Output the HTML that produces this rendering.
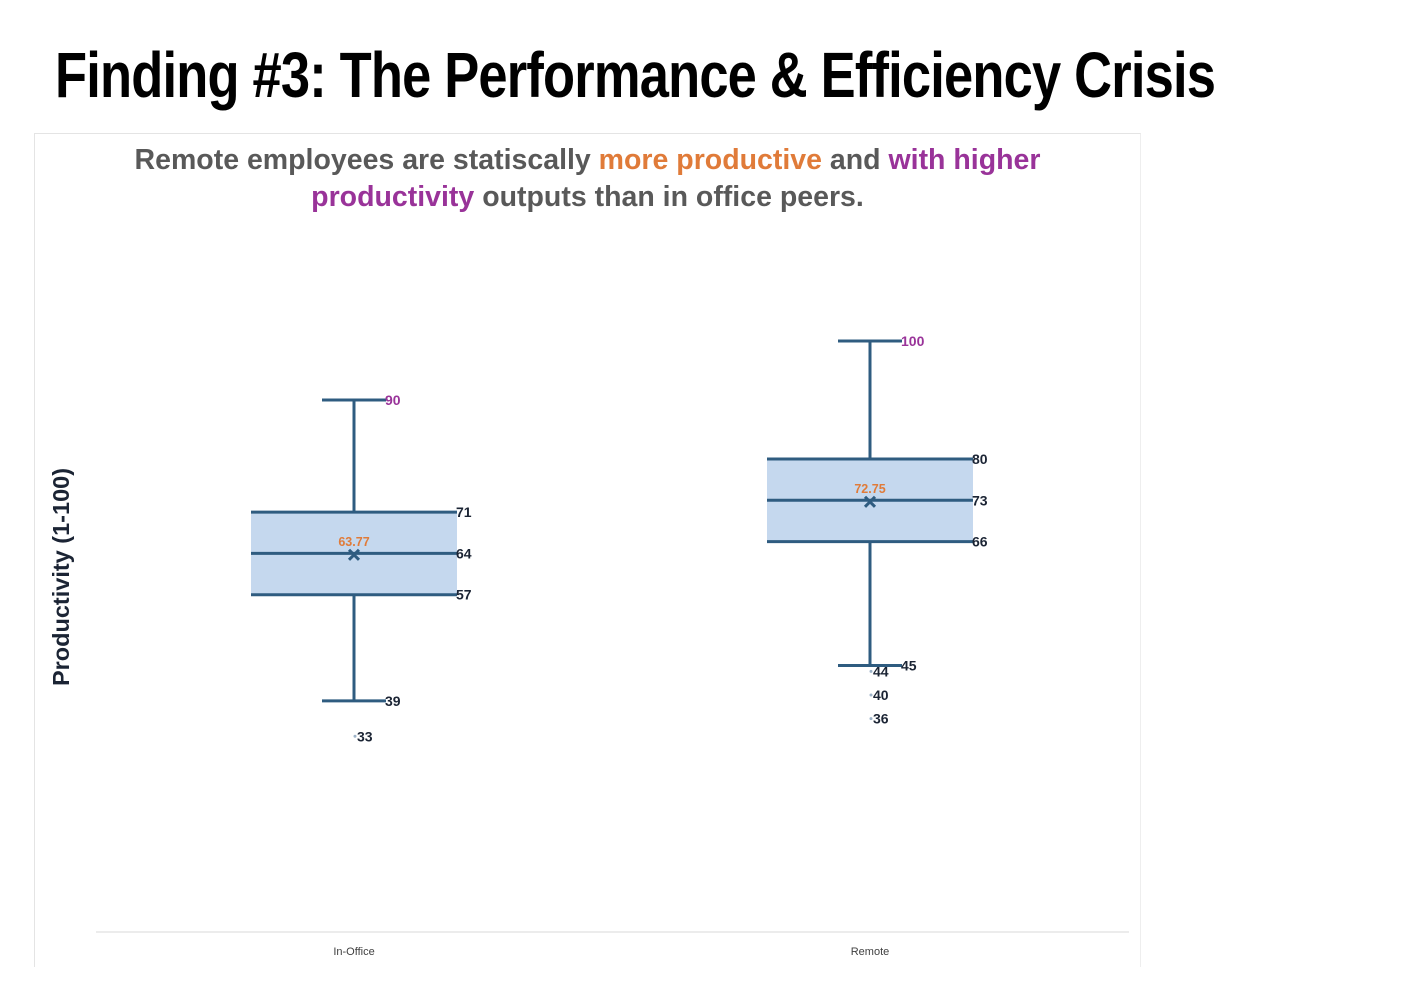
<!DOCTYPE html>
<html><head><meta charset="utf-8"><style>
body{margin:0;width:1422px;height:994px;background:#fff;overflow:hidden;font-family:"Liberation Sans",sans-serif;position:relative}
#title{position:absolute;left:55px;top:38px;font-size:64px;font-weight:bold;color:#000;white-space:nowrap;transform-origin:0 0;transform:scaleX(0.82);letter-spacing:-1px}
#frame{position:absolute;left:34px;top:133px;width:1105px;height:833px;border:1px solid #e4e4e4;border-bottom:none;border-right:1px solid #eee}
#sub{position:absolute;left:80px;top:142px;width:1015px;text-align:center;font-size:28.5px;font-weight:bold;color:#595959;line-height:37px}
.o{color:#E07B39}.p{color:#993399}
svg{position:absolute;left:0;top:0}
</style></head><body>
<div id="title">Finding #3: The Performance &amp; Efficiency Crisis</div>
<div id="frame"></div>
<div id="sub">Remote employees are statiscally <span class="o">more productive</span> and <span class="p">with higher productivity</span> outputs than in office peers.</div>
<svg id="chart" width="1422" height="994"></svg>
<script>
const categories=["In-Office","Remote"];
const mins=[39,45];
const q1s=[57,66];
const medians=[64,73];
const q3s=[71,80];
const maxs=[90,100];
const means=[63.77,72.75];
const outliers=[[33],[44,40,36]];
const svg=document.getElementById('chart');
const NS='http://www.w3.org/2000/svg';
function y(v){return 341+(100-v)*5.9;}
function xc(i){return 354+i*516;}
function el(t,a,txt){const e=document.createElementNS(NS,t);for(const k in a)e.setAttribute(k,a[k]);if(txt!==undefined)e.textContent=txt;svg.appendChild(e);return e;}
const LC='#2F5C80',TC='#1B2434';
let ax=el('line',{x1:96,x2:1129,y1:932,y2:932,stroke:'#d9d9d9','stroke-width':1});


let yt=el('text',{x:0,y:0,transform:'translate(69,577) rotate(-90)','text-anchor':'middle','font-size':23.5,'font-weight':'bold',fill:'#1B2434'},'Productivity (1-100)');


categories.forEach((c,i)=>{
 const x=xc(i);
 let g;
 g=el('line',{x1:x,x2:x,y1:y(maxs[i]),y2:y(q3s[i]),stroke:LC,'stroke-width':3});
 
 
 g=el('line',{x1:x,x2:x,y1:y(q1s[i]),y2:y(mins[i]),stroke:LC,'stroke-width':3});
 
 
 el('line',{x1:x-32,x2:x+32,y1:y(maxs[i]),y2:y(maxs[i]),stroke:LC,'stroke-width':3});
 el('line',{x1:x-32,x2:x+32,y1:y(mins[i]),y2:y(mins[i]),stroke:LC,'stroke-width':3});
 g=el('rect',{x:x-103,y:y(q3s[i]),width:206,height:y(q1s[i])-y(q3s[i]),fill:'#C5D8EE'});
 
 
 [q3s[i],medians[i],q1s[i]].forEach(v=>el('line',{x1:x-103,x2:x+103,y1:y(v),y2:y(v),stroke:LC,'stroke-width':3}));
 const my=y(means[i]);
 g=el('path',{d:`M${x-5},${my-5}L${x+5},${my+5}M${x+5},${my-5}L${x-5},${my+5}`,stroke:LC,'stroke-width':3});
 
 
 el('text',{x:x,y:my-9,'text-anchor':'middle','font-size':12.5,'font-weight':'bold',fill:'#E07B39'},means[i].toFixed(2));
 el('text',{x:x+31,y:y(maxs[i])+5,'font-size':14,'font-weight':'bold',fill:'#993399'},maxs[i]);
 el('text',{x:x+31,y:y(mins[i])+5,'font-size':14,'font-weight':'bold',fill:TC},mins[i]);
 [q3s[i],medians[i],q1s[i]].forEach(v=>el('text',{x:x+102,y:y(v)+5,'font-size':14,'font-weight':'bold',fill:TC},v));
 outliers[i].forEach(v=>{
  let p=el('circle',{cx:x+1,cy:y(v),r:1.5,fill:'#9DB3C8'});
  
  
  el('text',{x:x+3,y:y(v)+5,'font-size':14,'font-weight':'bold',fill:TC},v);
 });
 g=el('text',{x:x,y:955,'text-anchor':'middle','font-size':11,fill:'#404040'},c);
 
 
});
</script>
</body></html>
